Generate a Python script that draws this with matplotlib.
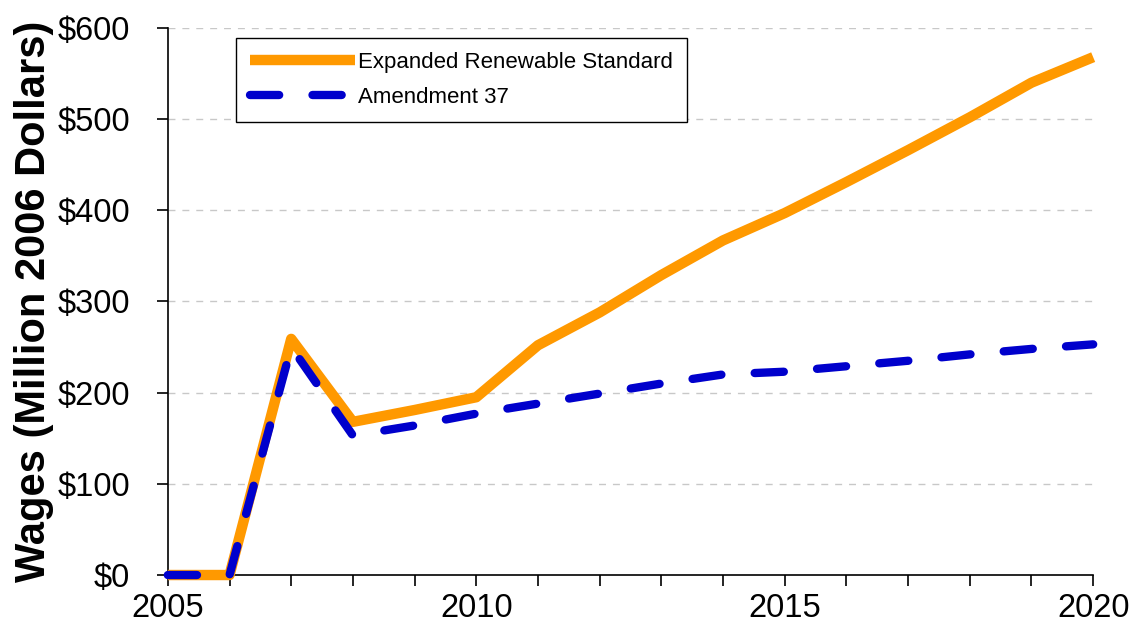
import matplotlib
matplotlib.use("Agg")
import matplotlib.pyplot as plt
from matplotlib.ticker import FixedLocator, FuncFormatter

years = list(range(2005, 2021))
expanded_rs = [0, 0, 259, 168, 181, 195, 252, 288, 329, 367, 397, 431, 466, 502, 540, 568]
amendment_37 = [0, 0, 250, 153, 164, 177, 188, 199, 210, 220, 223, 229, 235, 242, 248, 253]
series_names = ["Expanded Renewable Standard", "Amendment 37"]
y_ticks = [0, 100, 200, 300, 400, 500, 600]
x_major = [2005, 2010, 2015, 2020]

plt.rcParams['font.family'] = ['Liberation Sans', 'DejaVu Sans']

fig = plt.figure(figsize=(11.34, 6.33), dpi=100)
ax = fig.add_axes([0.148, 0.0916, 0.816, 0.8642])

ax.plot(years, expanded_rs, color='#FF9900', lw=7.5, solid_capstyle='butt',
        solid_joinstyle='round', label=series_names[0], clip_on=False, zorder=3)
ax.plot(years, amendment_37, color='#0000CC', lw=6, dashes=(3.5, 4.0),
        dash_capstyle='round', dash_joinstyle='round', label=series_names[1],
        clip_on=False, zorder=4)

ax.set_xlim(2005, 2020)
ax.set_ylim(0, 600)
ax.yaxis.set_major_locator(FixedLocator(y_ticks))
ax.yaxis.set_major_formatter(FuncFormatter(lambda v, p: f"${int(v)}"))
ax.xaxis.set_major_locator(FixedLocator(x_major))
ax.xaxis.set_minor_locator(FixedLocator(years))

for v in y_ticks[1:]:
    ax.axhline(v, color='#C8C8C8', lw=1, ls=(0, (5, 5)), zorder=1)

for s in ['top', 'right']:
    ax.spines[s].set_visible(False)
for s in ['left', 'bottom']:
    ax.spines[s].set_linewidth(1.2)

ax.tick_params(axis='y', direction='out', length=8, width=1.2, labelsize=23.5, pad=19)
ax.tick_params(axis='x', which='both', direction='out', length=8, width=1.2,
               labelsize=23.5, pad=5)

ax.set_ylabel("Wages (Million 2006 Dollars)", fontsize=30, fontweight='bold', labelpad=3)

leg = ax.legend(loc='upper left', bbox_to_anchor=(0.0735, 0.982), fontsize=16,
                frameon=True, fancybox=False, edgecolor='black', framealpha=1,
                handlelength=4.7, handletextpad=0.15, borderpad=0.65,
                labelspacing=0.6, borderaxespad=0)
leg.get_frame().set_linewidth(1.0)

fig.savefig("out.png", dpi=100)
